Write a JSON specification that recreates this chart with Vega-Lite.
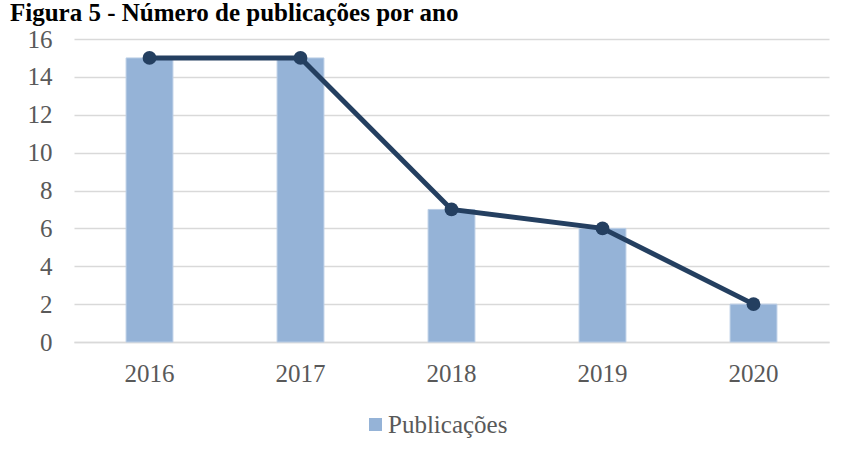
{
  "$schema": "https://vega.github.io/schema/vega-lite/v6.json",
  "width": 755,
  "height": 303,
  "autosize": {"type": "none"},
  "padding": {"left": 74, "top": 39, "right": 20, "bottom": 112},
  "background": "white",
  "title": {
    "text": "Figura 5 - Número de publicações por ano",
    "anchor": "start",
    "frame": "group",
    "font": "Liberation Serif",
    "fontSize": 25,
    "fontWeight": "bold",
    "color": "#000000",
    "baseline": "alphabetic",
    "offset": 0,
    "dy": 19,
    "dx": -64
  },
  "data": {
    "values": [
      {"ano": "2016", "publicacoes": 15},
      {"ano": "2017", "publicacoes": 15},
      {"ano": "2018", "publicacoes": 7},
      {"ano": "2019", "publicacoes": 6},
      {"ano": "2020", "publicacoes": 2}
    ]
  },
  "encoding": {
    "x": {
      "field": "ano",
      "type": "ordinal",
      "scale": {"paddingInner": 0.69, "paddingOuter": 0.345},
      "axis": {
        "title": null,
        "labelAngle": 0,
        "labelFont": "Liberation Serif",
        "labelFontSize": 25,
        "labelColor": "#595959",
        "labelPadding": 19,
        "ticks": false,
        "domain": true,
        "domainColor": "#d9d9d9",
        "domainWidth": 1.5,
        "grid": false
      }
    },
    "y": {
      "field": "publicacoes",
      "type": "quantitative",
      "scale": {"domain": [0, 16], "nice": false},
      "axis": {
        "title": null,
        "values": [0, 2, 4, 6, 8, 10, 12, 14, 16],
        "labelFont": "Liberation Serif",
        "labelFontSize": 25,
        "labelColor": "#595959",
        "labelPadding": 22,
        "ticks": false,
        "domain": false,
        "grid": true,
        "gridColor": "#d9d9d9",
        "gridWidth": 1.5
      }
    }
  },
  "layer": [
    {
      "mark": {"type": "bar", "stroke": "#b9cde5", "strokeWidth": 1},
      "encoding": {
        "color": {
          "datum": "Publicações",
          "scale": {"range": ["#95b3d7"]},
          "legend": {
            "title": null,
            "orient": "none",
            "legendX": 289,
            "legendY": 373,
            "padding": 0,
            "symbolType": "square",
            "symbolSize": 169,
            "symbolStrokeWidth": 0,
            "labelFont": "Liberation Serif",
            "labelFontSize": 25,
            "labelColor": "#595959",
            "labelOffset": 0
          }
        }
      }
    },
    {
      "mark": {"type": "line", "color": "#243f60", "strokeWidth": 5},
      "encoding": {}
    },
    {
      "mark": {"type": "point", "filled": true, "color": "#243f60", "size": 190, "opacity": 1},
      "encoding": {}
    }
  ],
  "config": {"view": {"stroke": null}}
}
